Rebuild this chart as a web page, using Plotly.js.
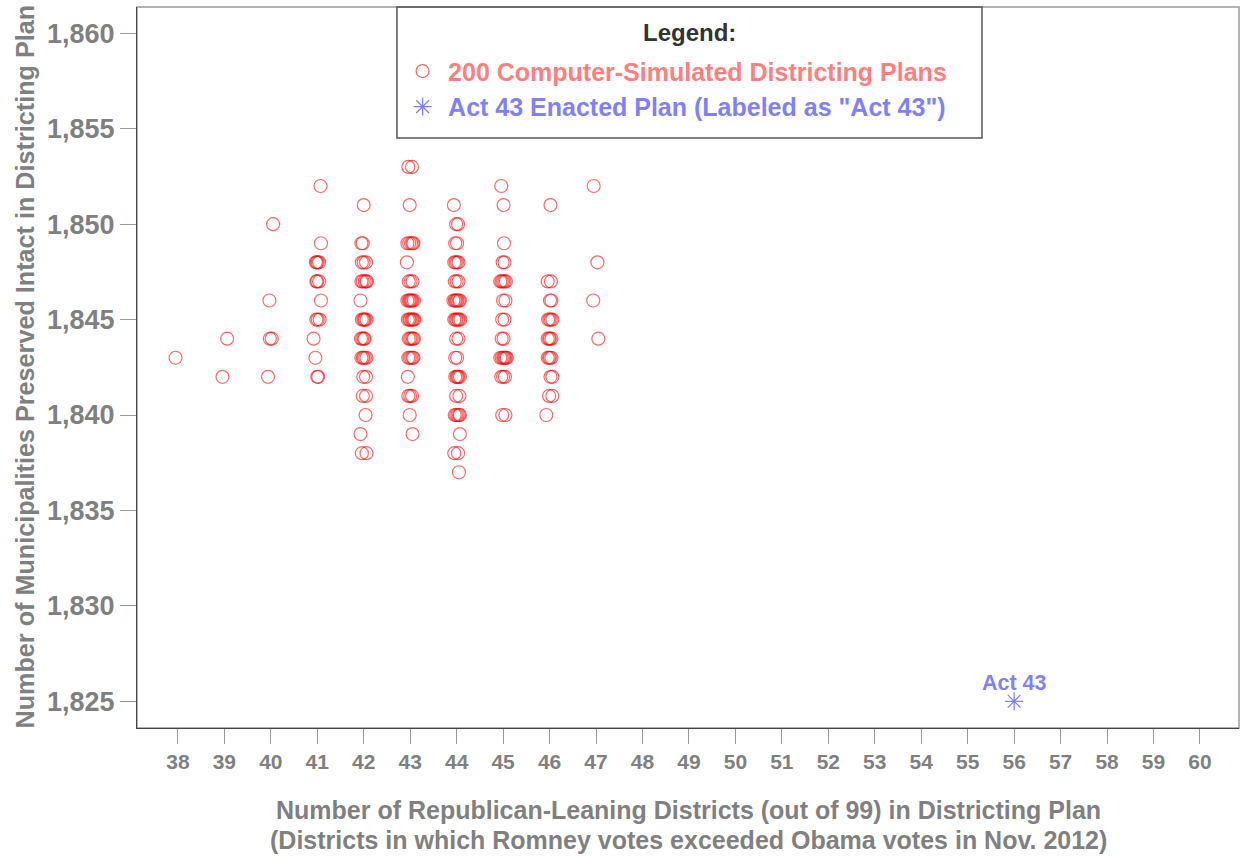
<!DOCTYPE html>
<html>
<head>
<meta charset="utf-8">
<script src="https://cdn.plot.ly/plotly-3.0.1.min.js"></script>
<style>html,body{margin:0;padding:0;background:#fff;}#chart{width:1241px;height:858px;}</style>
</head>
<body>
<div id="chart"></div>
<script>
// Simulated plans: x = number of Republican-leaning districts (with slight horizontal spread as drawn),
// y = number of municipalities preserved intact
const simX = [
  37.95,
  39.06, 38.96,
  40.05, 39.97, 39.98, 40.02, 39.94,
  41.07, 41.08, 40.97, 40.99, 41.01, 41.04, 40.98, 41.00, 41.04, 41.08, 40.98, 41.01, 41.05, 40.92, 40.96, 41.00, 41.02,
  42.00, 41.95, 41.98, 41.96, 42.00, 42.05, 41.95, 41.98, 42.02, 42.05, 42.07, 41.93, 41.96, 41.99, 42.01, 42.03, 42.06,
  41.94, 41.97, 42.00, 42.02, 41.95, 41.98, 42.00, 42.03, 42.06, 41.99, 42.05, 41.98, 42.05, 42.04, 41.93, 41.96, 42.06,
  42.96, 43.04, 42.99, 42.94, 42.98, 43.02, 43.05, 43.07, 42.93, 42.97, 43.01, 43.05,
  42.94, 42.97, 42.99, 43.01, 43.03, 43.05, 43.08, 42.95, 42.98, 43.00, 43.03, 43.05, 43.07, 43.09,
  42.97, 43.00, 43.03, 43.06, 43.08, 42.96, 42.99, 43.02, 43.05, 43.07, 42.95, 42.96, 43.00, 43.04, 42.99, 43.05,
  43.94, 43.99, 44.03, 43.97, 44.01, 43.95, 43.98, 44.01, 44.04, 43.96, 44.00, 44.04,
  43.93, 43.96, 43.98, 44.00, 44.02, 44.05, 44.07, 43.95, 43.98, 44.00, 44.03, 44.05, 44.08,
  43.99, 44.04, 43.97, 44.01, 43.97, 44.00, 44.02, 44.04, 44.07, 43.99, 44.06,
  43.96, 43.99, 44.02, 44.05, 44.07, 44.07, 43.95, 44.03, 44.05,
  44.96, 45.01, 45.02, 44.99, 45.03, 44.94, 44.97, 45.00, 45.03, 45.06, 45.00, 45.05, 44.98, 45.03, 44.97, 45.01,
  44.94, 44.97, 45.00, 45.02, 45.04, 45.06, 45.08, 44.96, 45.00, 45.04, 44.98, 45.05,
  46.02, 45.96, 46.03, 46.01, 46.04, 45.97, 46.00, 46.03, 46.06, 45.96, 45.99, 46.01, 46.04,
  45.96, 45.99, 46.01, 46.04, 46.02, 46.06, 45.99, 46.06, 45.93,
  46.95, 47.03, 46.94, 47.05
];
const simY = [
  1843,
  1844, 1842,
  1850, 1846, 1844, 1844, 1842,
  1852, 1849, 1848, 1848, 1848, 1848, 1847, 1847, 1847, 1846, 1845, 1845, 1845, 1844, 1843, 1842, 1842,
  1851, 1849, 1849, 1848, 1848, 1848, 1847, 1847, 1847, 1847, 1847, 1846, 1845, 1845, 1845, 1845, 1845,
  1844, 1844, 1844, 1844, 1843, 1843, 1843, 1843, 1843, 1842, 1842, 1841, 1841, 1840, 1839, 1838, 1838,
  1853, 1853, 1851, 1849, 1849, 1849, 1849, 1849, 1848, 1847, 1847, 1847,
  1846, 1846, 1846, 1846, 1846, 1846, 1846, 1845, 1845, 1845, 1845, 1845, 1845, 1845,
  1844, 1844, 1844, 1844, 1844, 1843, 1843, 1843, 1843, 1843, 1842, 1841, 1841, 1841, 1840, 1839,
  1851, 1850, 1850, 1849, 1849, 1848, 1848, 1848, 1848, 1847, 1847, 1847,
  1846, 1846, 1846, 1846, 1846, 1846, 1846, 1845, 1845, 1845, 1845, 1845, 1845,
  1844, 1844, 1843, 1843, 1842, 1842, 1842, 1842, 1842, 1841, 1841,
  1840, 1840, 1840, 1840, 1840, 1839, 1838, 1838, 1837,
  1852, 1851, 1849, 1848, 1848, 1847, 1847, 1847, 1847, 1847, 1846, 1846, 1845, 1845, 1844, 1844,
  1843, 1843, 1843, 1843, 1843, 1843, 1843, 1842, 1842, 1842, 1840, 1840,
  1851, 1847, 1847, 1846, 1846, 1845, 1845, 1845, 1845, 1844, 1844, 1844, 1844,
  1843, 1843, 1843, 1843, 1842, 1842, 1841, 1841, 1840,
  1852, 1848, 1846, 1844
];
const actX = [56];
const actY = [1825];
const actLabel = ['Act 43'];
const xTicks = [38,39,40,41,42,43,44,45,46,47,48,49,50,51,52,53,54,55,56,57,58,59,60];
const yTicks = [1825,1830,1835,1840,1845,1850,1855,1860];
const xTitleLines = [
  'Number of Republican-Leaning Districts (out of 99) in Districting Plan',
  '(Districts in which Romney votes exceeded Obama votes in Nov. 2012)'
];
const yTitle = 'Number of Municipalities Preserved Intact in Districting Plan';
const legendTitle = 'Legend:';
const simName = '200 Computer-Simulated Districting Plans';
const actName = 'Act 43 Enacted Plan (Labeled as "Act 43")';

const FONT = 'Liberation Sans, Arial, Helvetica, sans-serif';
const GRAY = '#808080';

const traces = [
  {
    type: 'scatter', mode: 'markers', x: simX, y: simY,
    name: '<span style="color:#ff7f7f">' + simName + '</span>',
    marker: {symbol: 'circle-open', size: 13, color: 'rgba(255,0,0,0.6)', line: {width: 1.2, color: 'rgba(255,0,0,0.6)'}},
    hoverinfo: 'x+y'
  },
  {
    type: 'scatter', mode: 'markers', x: actX, y: actY,
    name: '<span style="color:#7f7fff">' + actName + '</span>',
    marker: {symbol: 'asterisk-open', size: 15, color: '#7f7fff', line: {width: 1.3, color: '#7f7fff'}},
    hoverinfo: 'x+y'
  }
];

const layout = {
  width: 1241, height: 858,
  margin: {l: 137, r: 2, t: 7, b: 130},
  paper_bgcolor: '#fff', plot_bgcolor: '#fff',
  font: {family: FONT, color: GRAY},
  showlegend: true,
  legend: {
    x: 0.236, y: 0.9427, xanchor: 'left', yanchor: 'top',
    borderwidth: 0, bgcolor: 'rgba(0,0,0,0)',
    font: {family: FONT, size: 25, color: '#333', weight: 'bold'},
    itemwidth: 41, tracegroupgap: 0
  },
  xaxis: {
    range: [37.12, 60.84], tickvals: xTicks, ticktext: xTicks.map(String),
    showgrid: false, zeroline: false, showline: true, linecolor: '#444', linewidth: 1,
    ticks: 'outside', ticklen: 15, tickcolor: '#999', tickwidth: 1,
    tickfont: {family: FONT, size: 21, color: GRAY, weight: 'bold'}
  },
  yaxis: {
    range: [1823.6, 1861.38], tickvals: yTicks, tickformat: ',',
    showgrid: false, zeroline: false, showline: true, linecolor: '#444', linewidth: 1,
    ticks: 'outside', ticklen: 16, tickcolor: '#999', tickwidth: 1,
    tickfont: {family: FONT, size: 27, color: GRAY, weight: 'bold'}
  },
  shapes: [
    {type: 'rect', xref: 'paper', yref: 'paper', x0: 0, x1: 1, y0: 0, y1: 1,
     line: {color: '#999', width: 1.5}, layer: 'below'},
    {type: 'rect', xref: 'paper', yref: 'paper', x0: 0.2359, x1: 0.7668, y0: 0.8183, y1: 1,
     line: {color: '#555', width: 1.5}, fillcolor: 'rgba(0,0,0,0)', layer: 'above'}
  ],
  annotations: [
    {xref: 'paper', yref: 'paper', x: 0.5, y: 0, xanchor: 'center', yanchor: 'middle', yshift: -82,
     showarrow: false, text: xTitleLines[0], font: {family: FONT, size: 25, color: GRAY, weight: 'bold'}},
    {xref: 'paper', yref: 'paper', x: 0.5, y: 0, xanchor: 'center', yanchor: 'middle', yshift: -112,
     showarrow: false, text: xTitleLines[1], font: {family: FONT, size: 25, color: GRAY, weight: 'bold'}},
    {xref: 'paper', yref: 'paper', x: 0, y: 0.5, xanchor: 'center', yanchor: 'middle', xshift: -113, yshift: 1,
     textangle: -90, showarrow: false, text: yTitle, font: {family: FONT, size: 25.2, color: GRAY, weight: 'bold'}},
    {xref: 'paper', yref: 'paper', x: 0.5013, y: 0.9653, xanchor: 'center', yanchor: 'middle',
     showarrow: false, text: legendTitle, font: {family: FONT, size: 24, color: '#333', weight: 'bold'}},
    {xref: 'x', yref: 'y', x: actX[0], y: actY[0], xanchor: 'center', yanchor: 'middle', yshift: 18,
     showarrow: false, text: actLabel[0], font: {family: FONT, size: 21.5, color: '#7f7fff', weight: 'bold'}}
  ]
};

Plotly.newPlot('chart', traces, layout, {displayModeBar: false, staticPlot: true});
</script>
</body>
</html>
